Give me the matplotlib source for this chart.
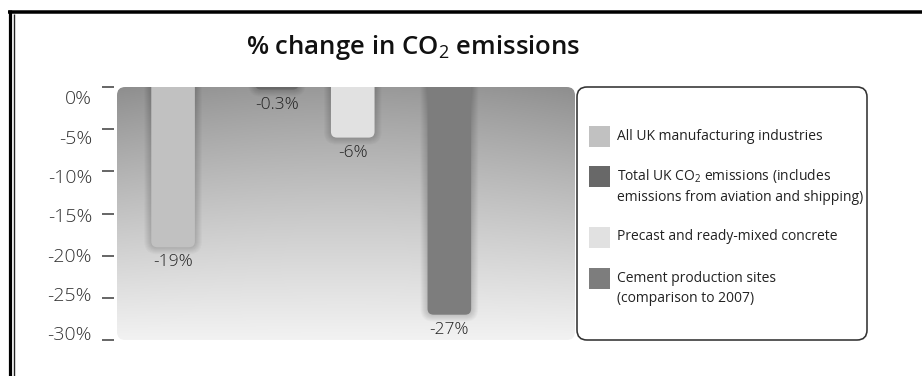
import numpy as np
import matplotlib
matplotlib.use("Agg")
import matplotlib.pyplot as plt
from matplotlib import font_manager
from matplotlib.patches import FancyBboxPatch, Rectangle
from matplotlib.lines import Line2D
from matplotlib.transforms import Affine2D, ScaledTranslation

# ---------------- data ----------------
categories = [
    "All UK manufacturing industries",
    "Total UK CO$_2$ emissions (includes\nemissions from aviation and shipping)",
    "Precast and ready-mixed concrete",
    "Cement production sites\n(comparison to 2007)",
]
values = [-19.0, -0.3, -6.0, -27.0]
value_labels = ["-19%", "-0.3%", "-6%", "-27%"]
bar_colors = ["#c1c1c1", "#686868", "#e1e1e1", "#7d7d7d"]
yticks = [0, -5, -10, -15, -20, -25, -30]
ytick_labels = ["0%", "-5%", "-10%", "-15%", "-20%", "-25%", "-30%"]
title = "% change in CO$_2$ emissions"

# ---------------- fonts ----------------
plt.rcParams['font.family'] = ['Open Sans', 'DejaVu Sans']
plt.rcParams['mathtext.fontset'] = 'custom'
plt.rcParams['mathtext.rm'] = 'Open Sans'
plt.rcParams['mathtext.it'] = 'Open Sans:italic'
plt.rcParams['mathtext.bf'] = 'Open Sans:bold'

avail = {f.name for f in font_manager.fontManager.ttflist}
if 'Liberation Sans Narrow' in avail:
    leg_font, leg_size = ['Liberation Sans Narrow', 'DejaVu Sans'], 12.5
else:
    leg_font, leg_size = ['Open Sans', 'DejaVu Sans'], 10

# ---------------- figure ----------------
W, H, DPI = 922, 376, 100
fig = plt.figure(figsize=(W / DPI, H / DPI), dpi=DPI)
fig.patch.set_facecolor('white')
PX = Affine2D().scale(1 / W, -1 / H).translate(0, 1) + fig.transFigure


def pt(px):
    return px * 72.0 / DPI


L, T, R, B = 117, 87, 575, 340
ax = fig.add_axes([L / W, 1 - B / H, (R - L) / W, (B - T) / H])
ax.set_facecolor('none')
x_pos = np.array([0.0, 1.0, 1.73, 2.66])
xlim = (-0.54, 3.87)
ax.set_xlim(*xlim)
ax.set_ylim(-30, 0)

# gradient background
ny, nx = 256, 200
t = np.linspace(0, 1, ny)[:, None]
s = np.linspace(-1, 1, nx)[None, :]
base = 0.60 + 0.35 * t ** 0.9
vign = -0.045 * (s ** 2) * (1 - t)
img = np.clip(base + vign, 0, 1)
rgb = np.dstack([img] * 3)
im = ax.imshow(rgb, extent=(xlim[0], xlim[1], -30, 0), aspect='auto',
               zorder=0, interpolation='bilinear', origin='upper')
bg = FancyBboxPatch((0, 0), 1, 1, boxstyle='round,pad=0,rounding_size=0.018',
                    mutation_aspect=(R - L) / (B - T), transform=ax.transAxes,
                    facecolor='none', edgecolor='none')
ax.add_patch(bg)
im.set_clip_path(bg)

# bars
bars = ax.bar(x_pos, values, width=0.42, color=bar_colors, zorder=2)
xu = (xlim[1] - xlim[0]) / (R - L)
yu = 30.0 / (B - T)
asp = yu / xu
for rect in bars:
    x0, w = rect.get_x(), rect.get_width()
    yb = rect.get_y() + rect.get_height()
    col = rect.get_facecolor()
    rect.set_visible(False)
    for k in range(1, 8):
        e = k * xu
        sh = FancyBboxPatch((x0 - e, yb - k * yu), w + 2 * e, -yb + 3 + k * yu,
                            boxstyle=f'round,pad=0,rounding_size={(6 + k) * xu}',
                            mutation_aspect=asp, fc='black', ec='none',
                            alpha=0.022, zorder=1)
        ax.add_patch(sh)
    p = FancyBboxPatch((x0, yb), w, -yb + 3,
                       boxstyle=f'round,pad=0,rounding_size={6 * xu}',
                       mutation_aspect=asp, fc=col, ec='none', zorder=2)
    ax.add_patch(p)

for x, v, lbl in zip(x_pos, values, value_labels):
    ax.annotate(lbl, (x, v), xytext=(0, -pt(15)), textcoords='offset points',
                ha='center', va='center', fontsize=12.5, color='#222',
                fontweight='light')

# axis styling
ax.set_xticks([])
ax.set_yticks(yticks, ytick_labels)
for sp in ax.spines.values():
    sp.set_visible(False)
ax.spines['left'].set_position(('outward', pt(3)))
ax.tick_params(axis='y', length=pt(12), width=pt(1.6), color='#444',
               pad=pt(10), labelsize=14, labelcolor='#333')
for i, lab in enumerate(ax.get_yticklabels()):
    lab.set_fontweight('light')
    target = 97.5 + i * 39.25
    tickpx = T + (B - T) * (0 - yticks[i]) / 30.0
    dy = target - tickpx
    lab.set_transform(lab.get_transform() +
                      ScaledTranslation(0, -dy / DPI, fig.dpi_scale_trans))

# title
fig.text(413, 54, title, transform=PX, ha='center', va='baseline',
         fontsize=18.5, fontweight='semibold', color='#111')

# legend (manual)
box = FancyBboxPatch((577, 87), 290, 253, boxstyle='round,pad=0,rounding_size=10',
                     transform=PX, fc='white', ec='#333', lw=pt(1.6))
fig.add_artist(box)
sq_tops = [125.5, 166, 226.5, 267.5]
for top, lbl, col in zip(sq_tops, categories, bar_colors):
    fig.add_artist(Rectangle((589, top), 21, 21, transform=PX, fc=col, ec='none'))
    for j, line in enumerate(lbl.split("\n")):
        fig.text(617, top + 14 + 21 * j, line, transform=PX, ha='left',
                 va='baseline', fontsize=leg_size, family=leg_font, color='#222')

# frame
fig.add_artist(Line2D([8, 922], [12, 12], transform=PX, color='black',
                      lw=pt(3.5), solid_capstyle='butt'))
fig.add_artist(Line2D([9.7, 9.7], [10.3, 376], transform=PX, color='black',
                      lw=pt(3.2), solid_capstyle='butt'))
fig.add_artist(Line2D([13.6, 13.6], [13.8, 376], transform=PX, color='#222',
                      lw=pt(1.4), solid_capstyle='butt'))

fig.savefig('out.png', dpi=DPI)
